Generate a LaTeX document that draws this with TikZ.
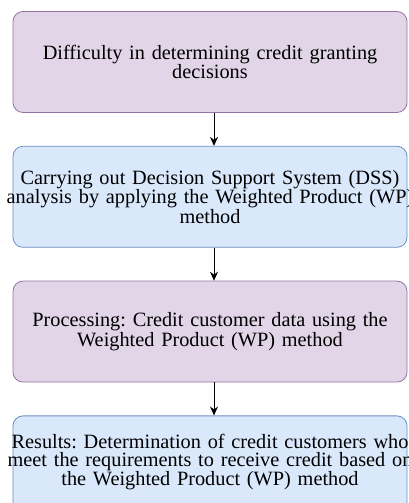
\documentclass[tikz,border=0pt]{standalone}
\usepackage{fontspec}
\setmainfont{Liberation Serif}
\usetikzlibrary{positioning,arrows.meta}

\definecolor{purplefill}{HTML}{E1D5E7}
\definecolor{purpleline}{HTML}{9673A6}
\definecolor{bluefill}{HTML}{DAE8FC}
\definecolor{blueline}{HTML}{6C8EBF}

\newcommand{\wideline}[1]{\makebox[\linewidth]{#1}}
\frenchspacing

\begin{document}
\begin{tikzpicture}[x=1pt,y=1pt,
  stepbox/.style={rectangle,rounded corners=10pt,line width=0.8pt,
    minimum width=394pt,minimum height=101pt,text width=394pt,inner xsep=0pt,
    align=center,font=\fontsize{20.3}{17.6}\selectfont},
  purplebox/.style={stepbox,fill=purplefill,draw=purpleline},
  bluebox/.style={stepbox,fill=bluefill,draw=blueline},
  flow/.style={line width=1pt,-{Stealth[length=9pt,width=8pt]}}]
\useasboundingbox (0,0) rectangle (408,503);
\clip (0,0) rectangle (408,503);

\node[purplebox] (diff) at (210,441) {Difficulty in determining credit granting\\decisions};
\node[bluebox,below=33pt of diff] (dss) {Carrying out Decision Support System (DSS)\\\wideline{analysis by applying the Weighted Product (WP)}\\method};
\node[purplebox,below=33pt of dss] (proc) {Processing: Credit customer data using the\\Weighted Product (WP) method};
\node[bluebox,below=33pt of proc,inner ysep=4pt,text depth=50pt] (res) {\wideline{Results: Determination of credit customers who}\\\wideline{meet the requirements to receive credit based on}\\the Weighted Product (WP) method};

\draw[flow] ([xshift=4pt]diff.south) -- ([xshift=4pt]dss.north);
\draw[flow] ([xshift=4pt]dss.south) -- ([xshift=4pt]proc.north);
\draw[flow] ([xshift=4pt]proc.south) -- ([xshift=4pt]res.north);
\end{tikzpicture}
\end{document}
